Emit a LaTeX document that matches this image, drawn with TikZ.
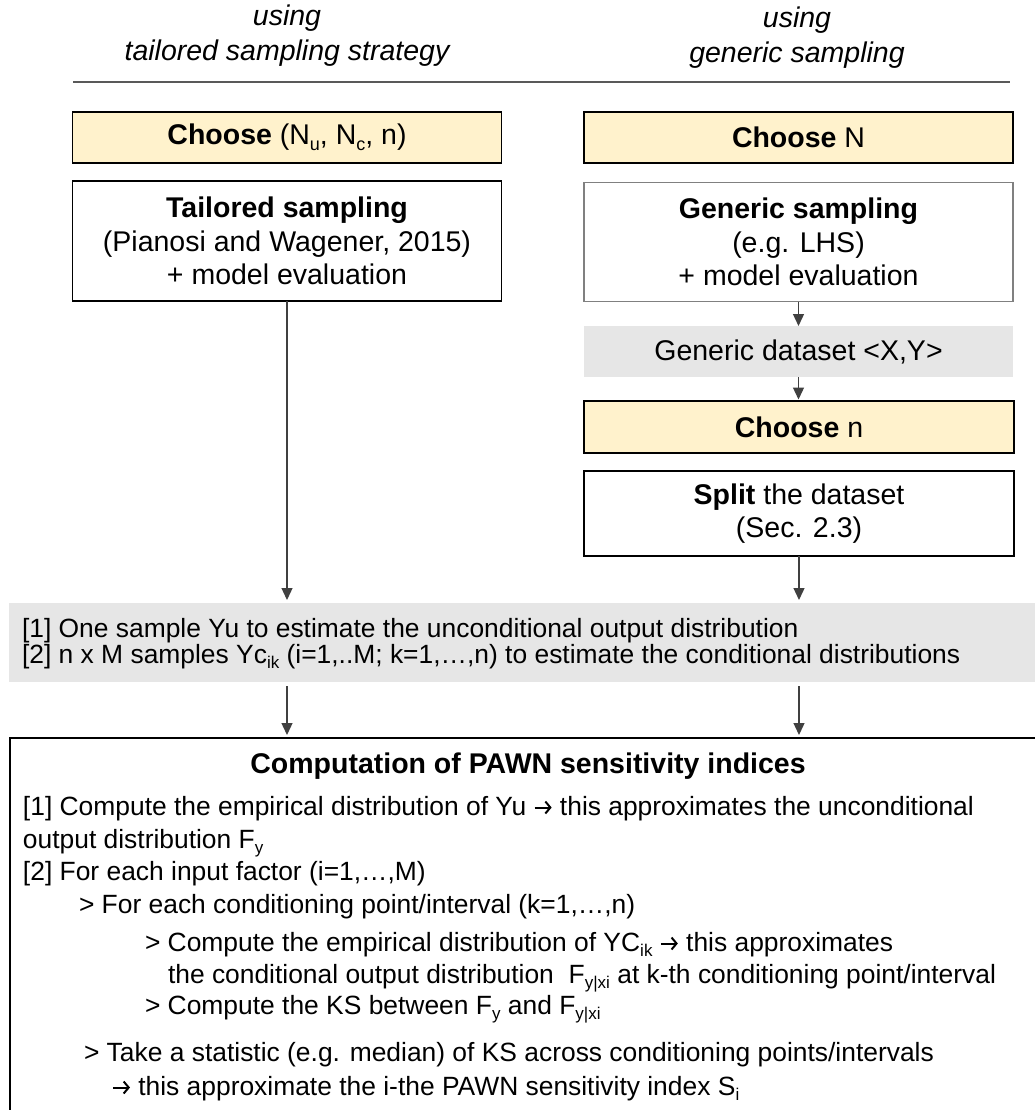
\documentclass[tikz,border=0pt]{standalone}
\usepackage{fontspec}
\setmainfont{Liberation Sans}
\usetikzlibrary{arrows.meta}
\definecolor{yel}{HTML}{FFF2CC}
\definecolor{gry}{HTML}{E6E6E6}
\definecolor{ink}{HTML}{404040}
\definecolor{rulec}{HTML}{595959}
\definecolor{genb}{HTML}{808080}
\newcommand\loA[1]{\raisebox{-0.22em}{\fontsize{18}{18}\selectfont #1}}
\newcommand\loB[1]{\raisebox{-0.22em}{\fontsize{17}{17}\selectfont #1}}
\newcommand\rarr{\tikz[baseline=0pt,x=1pt,y=1pt]\draw[black,line width=2pt,-{Straight Barb[length=5pt,width=12pt,line width=2pt]}] (0,7.5) -- (17,7.5);}
\begin{document}
\begin{tikzpicture}[x=1pt,y=-1pt,
  every node/.style={inner sep=0pt, outer sep=0pt},
  hdr/.style={anchor=base, font=\fontsize{28.5}{33}\selectfont\itshape},
  choosebox/.style={draw=black, line width=1.8pt, fill=yel, minimum width=429pt, minimum height=51pt, font=\fontsize{28.5}{34}\selectfont},
  whitebox/.style={draw=black, line width=1.8pt, fill=white, align=center, minimum width=429pt, font=\fontsize{28.5}{33.5}\selectfont},
  graybox/.style={fill=gry, draw=none},
  arr/.style={draw=ink, line width=1.3pt, -{Triangle[length=12pt,width=11pt]}},
  body/.style={anchor=base west, font=\fontsize{26.4}{30}\selectfont}
]
\useasboundingbox (0,0) rectangle (1035,1110);
\clip (0,0) rectangle (1035,1110);
\fill[white] (0,0) rectangle (1035,1110);

% headers
\node[hdr] (h1) at (287,26) {using};
\node[hdr] (h2) at (287,61) {tailored sampling strategy};
\node[hdr] (h3) at (797,28) {using};
\node[hdr] (h4) at (797,63) {generic sampling};
\coordinate (rl) at (73,82);
\coordinate (rr) at (1010,82);
\draw[rulec, line width=2pt] (rl) -- (rr);

% left column
\node[choosebox] (c1) at (287,137.5) {\textbf{Choose} (N\loA{u}, N\loA{c}, n)};
\node[whitebox, minimum height=120pt] (t1) at (287,241) {\textbf{Tailored sampling}\\(Pianosi and Wagener, 2015)\\+ model evaluation};

% right column
\node[choosebox] (c2) at (798.5,137.5) {\textbf{Choose} N};
\node[whitebox, draw=genb, minimum height=119pt] (g1) at (798.5,242) {\textbf{Generic sampling}\\(e.g. LHS)\\+ model evaluation};
\node[graybox, minimum width=429pt, minimum height=51pt, font=\fontsize{28.5}{34}\selectfont] (ds) at (798.5,351.5) {Generic dataset <X,Y>};
\node[choosebox, minimum width=430pt, minimum height=52pt] (cn) at (799,427) {\textbf{Choose} n};
\node[whitebox, minimum width=430pt, minimum height=85pt] (sp) at (799,513.5) {\textbf{Split} the dataset\\(Sec. 2.3)};

% samples box
\node[graybox, minimum width=1036pt, minimum height=79pt] (samp) at (527,642.5) {};
\node[body] (s1) at (22,637) {[1] One sample Yu to estimate the unconditional output distribution};
\node[body] (s2) at (22,663) {[2] n x M samples Yc\loB{ik} (i=1,..M; k=1,…,n) to estimate the conditional distributions};

% computation box
\node[draw=black, line width=1.8pt, fill=white, minimum width=1040pt, minimum height=392pt] (comp) at (530,934) {};
\node[anchor=base, font=\fontsize{28.5}{33}\selectfont\bfseries] (ct) at (528,773) {Computation of PAWN sensitivity indices};
\node[body] (b1) at (23,815) {[1] Compute the empirical distribution of Yu \rarr\ this approximates the unconditional};
\node[body] (b2) at (23,848) {output distribution F\loB{y}};
\node[body] (b3) at (23,880) {[2] For each input factor (i=1,…,M)};
\node[body] (b4) at (79,913) {> For each conditioning point/interval (k=1,…,n)};
\node[body] (b5) at (145,951) {> Compute the empirical distribution of YC\loB{ik} \rarr\ this approximates};
\node[body] (b6) at (168,983) {the conditional output distribution \ F\loB{y|xi} at k-th conditioning point/interval};
\node[body] (b7) at (145,1014) {> Compute the KS between F\loB{y} and F\loB{y|xi}};
\node[body] (b8) at (84,1061) {> Take a statistic (e.g. median) of KS across conditioning points/intervals};
\node[body] (b9) at (112,1095) {\rarr\ this approximate the i-the PAWN sensitivity index S\loB{i}};

% connectors
\draw[arr, shorten >=3pt] (t1.south) -- (t1.south |- samp.north);
\draw[arr] (g1.south) -- (ds.north);
\draw[arr, shorten >=1.5pt] (ds.south) -- (ds.south |- cn.north);
\draw[arr, shorten >=3pt] (sp.south) -- (sp.south |- samp.north);
\draw[arr, shorten <=4pt, shorten >=3pt] (samp.south -| t1.south) -- (t1.south |- comp.north);
\draw[arr, shorten <=4pt, shorten >=3pt] (samp.south -| sp.south) -- (sp.south |- comp.north);
\end{tikzpicture}
\end{document}
